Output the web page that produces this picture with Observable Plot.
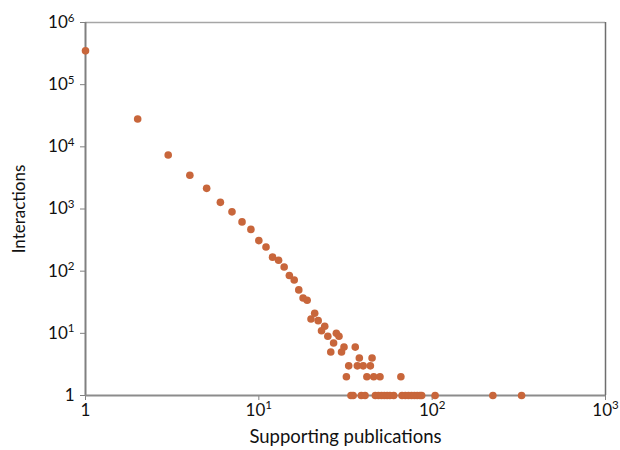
<!DOCTYPE html>
<html>
<head>
<meta charset="utf-8">
<script src="https://cdn.jsdelivr.net/npm/d3@7"></script>
<script src="https://cdn.jsdelivr.net/npm/@observablehq/plot@0.6"></script>
<style>
  html, body { margin: 0; padding: 0; background: #fff; }
  #chart svg { display: block; }
</style>
</head>
<body>
<div id="chart"></div>
<script>
// Number of supporting publications (x) and number of interactions (y)
const publications = [1, 2, 3, 4, 5, 6, 7, 8, 9, 10, 11, 12, 13, 14, 15, 16, 17, 18, 19, 20,
  21, 22, 23, 24, 25, 26, 27, 28, 29, 30, 31, 32, 33, 34, 35, 36, 37, 38, 39, 40,
  41, 42, 44, 45, 46, 47, 49, 50, 51, 53, 55, 57, 60, 66, 67, 70, 73, 76, 79, 82,
  85, 87, 104, 224, 328];
const interactions = [350000, 28000, 7400, 3500, 2150, 1280, 900, 620, 470, 310, 245, 168, 150, 117, 85, 72, 50, 37, 34, 17,
  21, 16, 11, 13, 9, 5, 7, 10, 9, 5, 6, 2, 3, 1, 1, 6, 3, 4, 1, 3,
  1, 2, 3, 4, 2, 1, 1, 2, 1, 1, 1, 1, 1, 2, 1, 1, 1, 1, 1, 1,
  1, 1, 1, 1, 1];
const xTicks = [1, 10, 100, 1000];
const yTicks = [1, 10, 100, 1000, 10000, 100000, 1000000];

const data = publications.map((p, i) => ({publications: p, interactions: interactions[i]}));

const pow = v => v === 1 ? "1" : "10^" + Math.round(Math.log10(v));

const font = "Lato, 'Open Sans', sans-serif";

const chart = Plot.plot({
  width: 620,
  height: 450,
  marginLeft: 85,
  marginRight: 15,
  marginTop: 22,
  marginBottom: 55,
  style: {fontFamily: font, fontSize: "17px", color: "#111", background: "#fff"},
  x: {type: "log", domain: [1, 1000]},
  y: {type: "log", domain: [1, 1000000]},
  marks: [
    Plot.ruleY([1000000], {stroke: "#a6a6a6", strokeWidth: 1.5}),
    Plot.ruleX([1000], {stroke: "#6e6e6e", strokeWidth: 1.5}),
    Plot.axisX({ticks: xTicks, tickFormat: pow, tickSize: 5, tickPadding: 3, stroke: "#808080",
      label: "Supporting publications", labelAnchor: "center", labelArrow: "none", labelOffset: 47,
      fontSize: 17}),
    Plot.axisY({ticks: yTicks, tickFormat: pow, tickSize: 5, tickPadding: 6, stroke: "#808080",
      label: "Interactions", labelAnchor: "center", labelArrow: "none", labelOffset: 73,
      fontSize: 17}),
    Plot.ruleX([1], {stroke: "#808080", strokeWidth: 2}),
    Plot.ruleY([1], {stroke: "#8c8c8c", strokeWidth: 2}),
    Plot.dot(data, {x: "publications", y: "interactions", r: 3.8, fill: "#c8663b", stroke: "none"})
  ]
});

// Render exponents as superscripts
d3.select(chart).selectAll("text").each(function() {
  const t = this.textContent;
  if (t.includes("^")) {
    const [base, exp] = t.split("^");
    const sel = d3.select(this);
    sel.text(base);
    sel.append("tspan").attr("dy", "-0.55em").attr("font-size", "0.68em").text(exp);
  }
});
// Axis title sizes
d3.select(chart).selectAll("g[aria-label='x-axis label'] text").style("font-size", "18.5px");
d3.select(chart).selectAll("g[aria-label='y-axis label'] text").style("font-size", "17px");

document.getElementById("chart").appendChild(chart);
</script>
</body>
</html>
